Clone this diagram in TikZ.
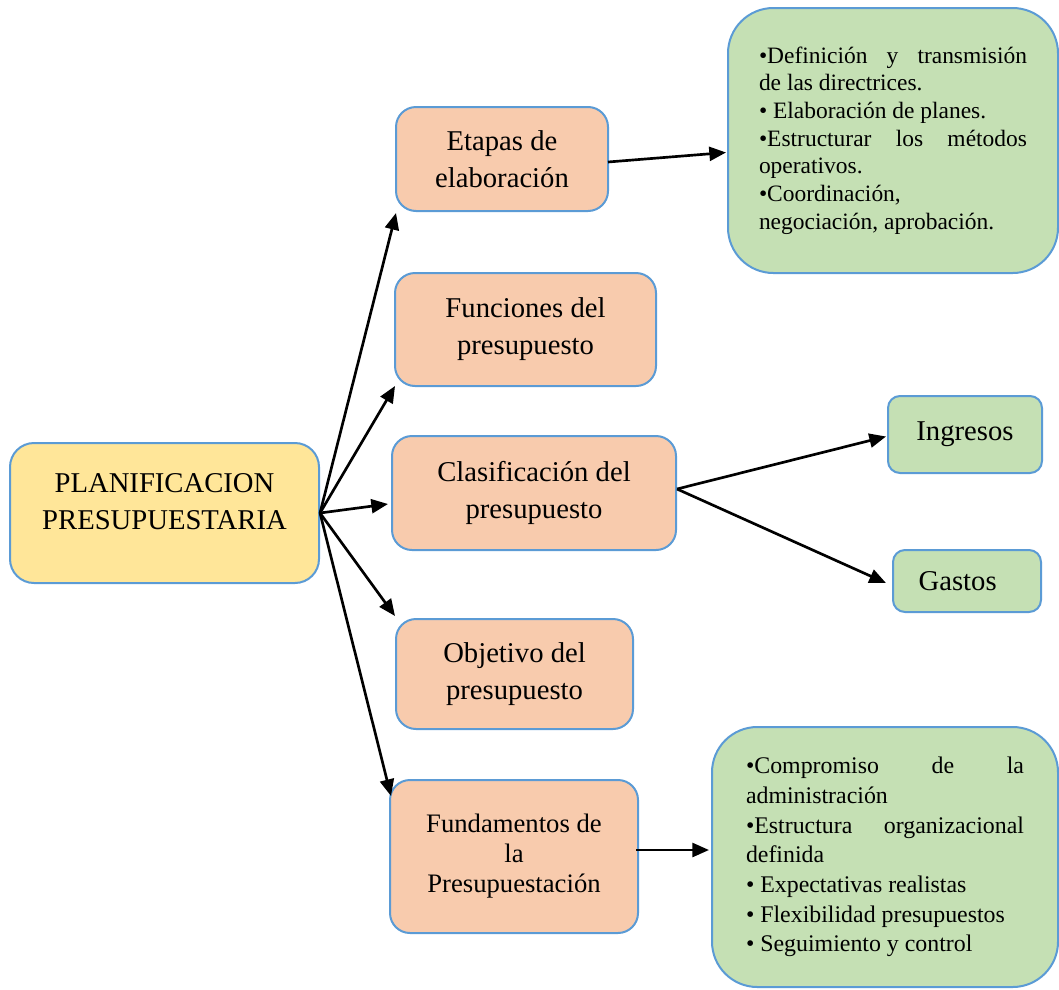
\documentclass[tikz,border=0pt]{standalone}
\usepackage{fontspec}
\setmainfont{Liberation Serif}
\usetikzlibrary{arrows.meta}
\setlength{\parindent}{0pt}
\definecolor{edge}{HTML}{5B9BD5}
\definecolor{rootfill}{HTML}{FFE699}
\definecolor{stagefill}{HTML}{F8CBAD}
\definecolor{leaffill}{HTML}{C5E0B4}

\begin{document}
\begin{tikzpicture}[x=0.75pt,y=-0.75pt,
  card/.style={draw=edge, line width=1.5pt, rounded corners=15pt,
    inner sep=0pt, align=center},
  bigtxt/.style={font=\fontsize{21.5}{27.75}\selectfont},
  stage/.style={card, fill=stagefill, bigtxt},
  leaf/.style={card, fill=leaffill, rounded corners=9pt, bigtxt},
  notes/.style={card, fill=leaffill, rounded corners=34pt, align=justify},
  link/.style={-{Triangle[length=12.5pt,width=10.5pt]}, line width=2pt, black}
]
\useasboundingbox (0,0) rectangle (1059,989);

% root box and its two-line title
\node[card, fill=rootfill, rounded corners=18pt,
  minimum width=231.75pt, minimum height=105pt] (plan) at (164.5,513) {};
\node[bigtxt, align=center, inner sep=0pt] (plantitle) at (164.5,501.5)
  {PLANIFICACION\\PRESUPUESTARIA};

% middle column
\node[stage, minimum width=159pt, minimum height=78pt] (etapas) at (502,159)
  {Etapas de\\elaboración};
\node[stage, minimum width=195.75pt, minimum height=84.75pt] (funciones) at (525.5,329.5)
  {Funciones del\\presupuesto};
\node[stage, minimum width=213pt, minimum height=85.5pt] (clasif) at (534,493)
  {Clasificación del\\presupuesto};
\node[stage, minimum width=177.75pt, minimum height=82.5pt] (objetivo) at (514.5,674)
  {Objetivo del\\presupuesto};
\node[stage, font=\fontsize{20}{22.5}\selectfont,
  minimum width=186pt, minimum height=114.75pt] (fund) at (514,856.5)
  {Fundamentos de\\la\\Presupuestación};

% right column
\node[notes, minimum width=247.5pt, minimum height=198.75pt, text width=201pt,
  font=\fontsize{17.6}{20.75}\selectfont] (steps) at (893,140.5)
  {•Definición y transmisión\linebreak de las directrices.\par
   • Elaboración de planes.\par
   •Estructurar los métodos\linebreak operativos.\par
   •Coordinación,\newline negociación, aprobación.};

\node[leaf, minimum width=115.5pt, minimum height=57.75pt] (ingresos) at (965,434.5)
  {Ingresos};
\node[leaf, minimum width=111pt, minimum height=46.5pt] (gastos) at (967,581)
  {\hspace*{-14pt}Gastos};

\node[notes, minimum width=259.5pt, minimum height=195pt, text width=208.5pt,
  font=\fontsize{17.9}{22.25}\selectfont] (bases) at (885,857)
  {•Compromiso de la\linebreak administración\par
   •Estructura organizacional\linebreak definida\par
   • Expectativas realistas\par
   • Flexibilidad presupuestos\par
   • Seguimiento y control};

% connectors
\draw[link] (plan.east) -- ([shift={(1,1)}]etapas.south west);
\draw[link] (plan.east) -- ([shift={(1,-1)}]funciones.south west);
\draw[link] (plan.east) -- ([shift={(-3,11)}]clasif.west);
\draw[link] (plan.east) -- ([shift={(0,-2)}]objetivo.north west);
\draw[link] (plan.east) -- ([shift={(2,17)}]fund.north west);

\draw[link] ([shift={(-1,3)}]etapas.east) -- ([shift={(-1,12)}]steps.west);
\draw[link] ([shift={(0,-4)}]clasif.east) -- ([shift={(-1,2)}]ingresos.west);
\draw[link] ([shift={(0,-4)}]clasif.east) -- ([shift={(-6,2)}]gastos.west);
\draw[link] ([shift={(-3,-6.5)}]fund.east) -- ([shift={(-2,-7)}]bases.west);
\end{tikzpicture}
\end{document}
